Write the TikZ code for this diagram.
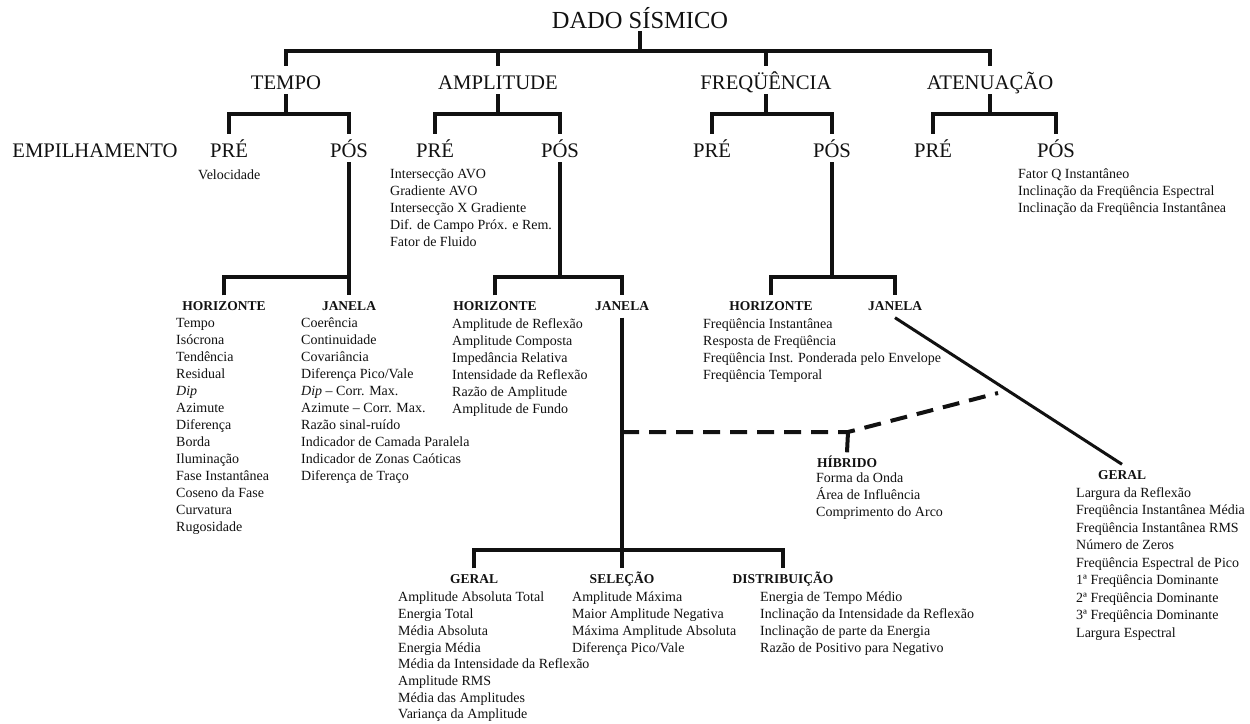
\documentclass[tikz,border=0pt]{standalone}
\usepackage{fontspec}
\setmainfont{Liberation Serif}
\usetikzlibrary{calc}
\definecolor{cInk}{HTML}{111111}
\tikzset{
  topnode/.style={
    font=\fontsize{24.5}{28}\selectfont, text=cInk,
    inner sep=0pt, anchor=base, text height=18pt, text depth=3pt,
  },
  lvl/.style={
    font=\fontsize{20.7}{24}\selectfont, text=cInk,
    inner sep=0pt, anchor=base, text height=23pt, text depth=5pt,
  },
  hdr/.style={
    font=\fontsize{13.5}{17}\selectfont\bfseries, text=cInk,
    inner sep=0pt, anchor=base, text height=15pt, text depth=7pt,
  },
  lst/.style={
    font=\fontsize{14}{17}\selectfont, text=cInk,
    inner sep=0pt, anchor=north west, align=left,
  },
  tree/.style={
    draw=cInk, line width=4pt,
  },
  diagline/.style={
    draw=cInk, line width=3pt,
  },
  dashline/.style={
    draw=cInk, line width=4pt, dash pattern=on 17pt off 10pt,
  },
}

\begin{document}
\begin{tikzpicture}[x=1pt, y=-1pt]

\fill[white] (0,0) rectangle (1250,723);
\useasboundingbox (0,0) rectangle (1250,723);

% ═══════════════════════════════════════════════════════════════
%  BAR ROWS  (y, measured from the top)
% ═══════════════════════════════════════════════════════════════
\coordinate (yTop) at (0,51);
\coordinate (yMid) at (0,114);
\coordinate (yLow) at (0,277);
\coordinate (yBot) at (0,550);

% ═══════════════════════════════════════════════════════════════
%  ROOT + ATTRIBUTE CLASSES
% ═══════════════════════════════════════════════════════════════
\node[topnode] (dado) at (640,28) {DADO SÍSMICO};

\node[lvl] (tempo) at (286,89) {TEMPO};
\node[lvl] (amp)   at (498,89) {AMPLITUDE};
\node[lvl] (freq)  at (766,89) {FREQÜÊNCIA};
\node[lvl] (aten)  at (990,89) {ATENUAÇÃO};

% ── arrows from the root ──
\draw[tree] (dado.south) -- (dado.south |- yTop);
\draw[tree] (tempo.north) |- (aten.north |- yTop) -- (aten.north);
\draw[tree] (amp.north) -- (amp.north |- yTop);
\draw[tree] (freq.north) -- (freq.north |- yTop);

% ═══════════════════════════════════════════════════════════════
%  STACKING  (pre / post)
% ═══════════════════════════════════════════════════════════════
\node[lvl] (empil) at (95,157) {EMPILHAMENTO};

\node[lvl] (tPre) at (229,157)  {PRÉ};
\node[lvl] (tPos) at (349,157)  {PÓS};
\node[lvl] (aPre) at (435,157)  {PRÉ};
\node[lvl] (aPos) at (560,157)  {PÓS};
\node[lvl] (fPre) at (712,157)  {PRÉ};
\node[lvl] (fPos) at (832,157)  {PÓS};
\node[lvl] (nPre) at (933,157)  {PRÉ};
\node[lvl] (nPos) at (1056,157) {PÓS};

% ── arrows inside each class ──
\draw[tree] (tempo.south) -- (tempo.south |- yMid);
\draw[tree] (tPre.north) |- (tPos.north |- yMid) -- (tPos.north);
\draw[tree] (amp.south) -- (amp.south |- yMid);
\draw[tree] (aPre.north) |- (aPos.north |- yMid) -- (aPos.north);
\draw[tree] (freq.south) -- (freq.south |- yMid);
\draw[tree] (fPre.north) |- (fPos.north |- yMid) -- (fPos.north);
\draw[tree] (aten.south) -- (aten.south |- yMid);
\draw[tree] (nPre.north) |- (nPos.north |- yMid) -- (nPos.north);

% ── lists under pre / post ──
\node[lst] (velList) at (198,170) {Velocidade};
\node[lst] (aPreList) at (390,169)
  {Intersecção AVO\\ Gradiente AVO\\ Intersecção X Gradiente\\
   Dif. de Campo Próx. e Rem.\\ Fator de Fluido};
\node[lst] (nPosList) at (1018,169)
  {Fator Q Instantâneo\\ Inclinação da Freqüência Espectral\\
   Inclinação da Freqüência Instantânea};

% ═══════════════════════════════════════════════════════════════
%  HORIZON / WINDOW
% ═══════════════════════════════════════════════════════════════
\node[hdr] (tHor) at (224,310.5) {HORIZONTE};
\node[hdr] (tJan) at (349,310.5) {JANELA};
\node[hdr] (aHor) at (495,310.5) {HORIZONTE};
\node[hdr] (aJan) at (622,310.5) {JANELA};
\node[hdr] (fHor) at (771,310.5) {HORIZONTE};
\node[hdr] (fJan) at (895,310.5) {JANELA};

% ── arrows from post ──
\draw[tree] (tPos.south) -- (tJan.north);
\draw[tree] (tHor.north) |- (tPos.south |- yLow);
\draw[tree] (aPos.south) -- (aPos.south |- yLow);
\draw[tree] (aHor.north) |- (aJan.north |- yLow) -- (aJan.north);
\draw[tree] (fPos.south) -- (fPos.south |- yLow);
\draw[tree] (fHor.north) |- (fJan.north |- yLow) -- (fJan.north);

% ── lists ──
\node[lst] (tHorList) at (176,318)
  {Tempo\\ Isócrona\\ Tendência\\ Residual\\ \textit{Dip}\\ Azimute\\
   Diferença\\ Borda\\ Iluminação\\ Fase Instantânea\\ Coseno da Fase\\
   Curvatura\\ Rugosidade};
\node[lst] (tJanList) at (301,318)
  {Coerência\\ Continuidade\\ Covariância\\ Diferença Pico/Vale\\
   \textit{Dip} – Corr. Max.\\ Azimute – Corr. Max.\\ Razão sinal-ruído\\
   Indicador de Camada Paralela\\ Indicador de Zonas Caóticas\\
   Diferença de Traço};
\node[lst] (aHorList) at (452,318)
  {Amplitude de Reflexão\\ Amplitude Composta\\ Impedância Relativa\\
   Intensidade da Reflexão\\ Razão de Amplitude\\ Amplitude de Fundo};
\node[lst] (fHorList) at (703,319)
  {Freqüência Instantânea\\ Resposta de Freqüência\\
   Freqüência Inst. Ponderada pelo Envelope\\ Freqüência Temporal};

% ═══════════════════════════════════════════════════════════════
%  HYBRID + GENERAL (frequency window)
% ═══════════════════════════════════════════════════════════════
\coordinate (hibKnee) at (848,432);
\coordinate (hibEnd) at (998,393);

\node[hdr] (hib) at (847,467.5) {HÍBRIDO};
\node[lst] (hibList) at (816,473)
  {Forma da Onda\\ Área de Influência\\ Comprimento do Arco};

\node[hdr] (gRight) at (1122,479.5) {GERAL};
\node[lst, font=\fontsize{14}{17.5}\selectfont] (gRightList) at (1076,487)
  {Largura da Reflexão\\ Freqüência Instantânea Média\\
   Freqüência Instantânea RMS\\ Número de Zeros\\
   Freqüência Espectral de Pico\\ 1ª Freqüência Dominante\\
   2ª Freqüência Dominante\\ 3ª Freqüência Dominante\\ Largura Espectral};

\draw[dashline] (aJan.south |- hibKnee) -- (hibKnee) -- (hibEnd);
\draw[tree] (hibKnee) -- (hib.north);
\draw[diagline] (fJan.south) -- (gRight.north);

% ═══════════════════════════════════════════════════════════════
%  AMPLITUDE WINDOW  (bottom row)
% ═══════════════════════════════════════════════════════════════
\node[hdr] (bGer) at (474,583.5) {GERAL};
\node[hdr] (bSel) at (622,583.5) {SELEÇÃO};
\node[hdr] (bDis) at (783,583.5) {DISTRIBUIÇÃO};

\draw[tree] (aJan.south) -- (bSel.north);
\draw[tree] (bGer.north) |- (bDis.north |- yBot) -- (bDis.north);

\node[lst, font=\fontsize{14}{16.7}\selectfont] (bGerList) at (398,592)
  {Amplitude Absoluta Total\\ Energia Total\\ Média Absoluta\\
   Energia Média\\ Média da Intensidade da Reflexão\\ Amplitude RMS\\
   Média das Amplitudes\\ Variança da Amplitude};
\node[lst, font=\fontsize{14}{16.7}\selectfont] (bSelList) at (572,592)
  {Amplitude Máxima\\ Maior Amplitude Negativa\\
   Máxima Amplitude Absoluta\\ Diferença Pico/Vale};
\node[lst, font=\fontsize{14}{16.7}\selectfont] (bDisList) at (760,592)
  {Energia de Tempo Médio\\ Inclinação da Intensidade da Reflexão\\
   Inclinação de parte da Energia\\ Razão de Positivo para Negativo};

\end{tikzpicture}
\end{document}
